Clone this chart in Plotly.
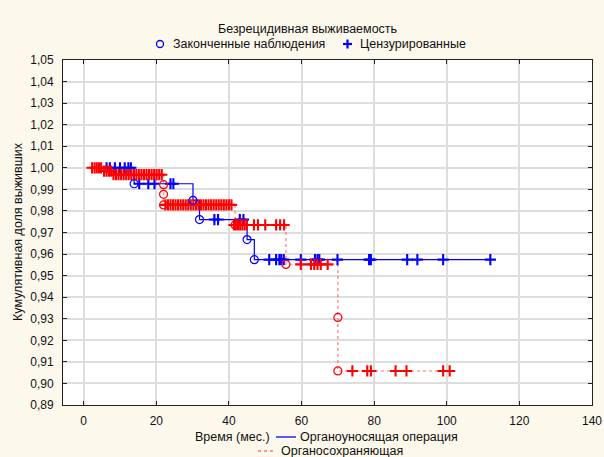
import plotly.graph_objects as go

# ---------------- data ----------------
# Органоуносящая операция (blue)
blue_curve_t = [5.5, 13.9, 30.1, 31.9, 45.0, 47.0, 112.0]
blue_curve_s = [1.0, 0.9926, 0.9849, 0.9760, 0.9667, 0.9574, 0.9574]
blue_event_t = [13.9, 30.1, 31.9, 45.0, 47.0]
blue_event_s = [0.9926, 0.9849, 0.9760, 0.9667, 0.9574]
blue_cens_t = [6.3, 7.2, 8.6, 10.0, 11.3, 12.3, 13.0,
               15.3, 17.8, 19.5, 23.9, 24.7,
               36.0, 37.0, 43.0, 44.0,
               51.1, 53.0, 53.9, 54.4, 55.1, 59.8, 63.7, 64.4, 64.9, 69.9,
               78.6, 79.1, 89.1, 91.9, 99.0, 112.0]
blue_cens_s = [1.0] * 7 + [0.9926] * 5 + [0.9760] * 4 + [0.9574] * 16

# Органосохраняющая (red)
red_curve_t = [2.3, 5.2, 7.8, 22.0, 22.0, 22.0, 41.7, 55.7, 70.0, 70.0, 100.8]
red_curve_s = [1.0, 0.9985, 0.9968, 0.9922, 0.9877, 0.9828, 0.9735, 0.9552,
               0.9306, 0.9058, 0.9058]
red_event_t = [22.0, 22.0, 22.0, 41.7, 55.7, 70.0, 70.0]
red_event_s = [0.9922, 0.9877, 0.9828, 0.9735, 0.9552, 0.9306, 0.9058]
red_cens_a_t = [2.3, 3.0, 3.6, 4.2, 4.8]
red_cens_b_t = [5.6, 6.3, 7.0, 7.6]
red_cens_c_t = [8.2, 8.9, 9.6, 10.3, 11.0, 11.7, 12.4, 13.1, 13.8, 14.5, 15.2,
                15.9, 16.6, 17.3, 18.0, 18.7, 19.4, 20.1, 20.8, 21.5]
red_cens_d_t = [22.5, 23.2, 23.9, 24.6, 25.3, 26.0, 26.7, 27.4, 28.1, 28.8, 29.5,
                30.2, 30.9, 31.6, 32.3, 33.0, 33.7, 34.4, 35.1, 35.8, 36.5,
                37.2, 37.9, 38.6, 39.3, 40.0, 40.7]
red_cens_e_t = [41.4, 41.9, 42.5, 43.1, 43.7, 44.3, 44.9, 46.9, 48.0, 50.0,
                53.0, 54.1, 55.2]
red_cens_f_t = [59.8, 62.6, 63.5, 64.4, 65.3, 67.2]
red_cens_g_t = [74.0, 78.1, 79.1, 85.9, 88.9, 99.0, 100.8]
red_cens_t = (red_cens_a_t + red_cens_b_t + red_cens_c_t + red_cens_d_t
              + red_cens_e_t + red_cens_f_t + red_cens_g_t)
red_cens_s = ([1.0] * len(red_cens_a_t) + [0.9985] * len(red_cens_b_t)
              + [0.9968] * len(red_cens_c_t) + [0.9828] * len(red_cens_d_t)
              + [0.9735] * len(red_cens_e_t) + [0.9552] * len(red_cens_f_t)
              + [0.9058] * len(red_cens_g_t))

x_ticks = [0, 20, 40, 60, 80, 100, 120, 140]
y_ticks = [round(0.89 + 0.01 * i, 2) for i in range(17)]

title_text = "Безрецидивная выживаемость"
legend_top = ["Законченные наблюдения", "Цензурированные"]
series_names = ["Органоуносящая операция", "Органосохраняющая"]
x_title = "Время (мес.)"
y_title = "Кумулятивная доля выживших"

# ---------------- styling / layout ----------------
W, H = 604, 457
L, R, T, B = 63, 12, 60, 52
PW, PH = W - L - R, H - T - B
FONT = "Liberation Sans, Arial, sans-serif"
BLUE = "#0000ff"
RED = "#ff0000"


def px(x):
    return (x - L) / PW


def py(y):
    return (H - B - y) / PH


fig = go.Figure()

fig.add_trace(go.Scatter(x=blue_curve_t, y=blue_curve_s, mode="lines",
                         line=dict(color=BLUE, width=1.2, shape="hv"),
                         showlegend=False, hoverinfo="skip"))
fig.add_trace(go.Scatter(x=red_curve_t, y=red_curve_s, mode="lines",
                         line=dict(color="rgba(255,60,60,0.5)", width=1.6,
                                   shape="hv", dash="dot"),
                         showlegend=False, hoverinfo="skip"))
fig.add_trace(go.Scatter(x=blue_cens_t, y=blue_cens_s, mode="markers",
                         marker=dict(symbol="cross-thin", size=8, color=BLUE,
                                     line=dict(width=2.1, color=BLUE)),
                         showlegend=False))
fig.add_trace(go.Scatter(x=red_cens_t, y=red_cens_s, mode="markers",
                         marker=dict(symbol="cross-thin", size=8, color=RED,
                                     line=dict(width=2.1, color=RED)),
                         showlegend=False))
fig.add_trace(go.Scatter(x=red_event_t, y=red_event_s, mode="markers",
                         marker=dict(symbol="circle-open", size=8, color=RED,
                                     line=dict(width=1.2, color="rgba(255,40,40,0.8)")),
                         showlegend=False))
fig.add_trace(go.Scatter(x=blue_event_t, y=blue_event_s, mode="markers",
                         marker=dict(symbol="circle-open", size=8, color=BLUE,
                                     line=dict(width=1.2, color=BLUE)),
                         showlegend=False))

ann = []
shapes = []


def text(x, y, s, anchor="left", angle=0):
    ann.append(dict(x=px(x), y=py(y), xref="paper", yref="paper", text=s,
                    showarrow=False, xanchor=anchor, yanchor="middle",
                    textangle=angle, font=dict(family=FONT, size=12.5, color="#111")))


text(307.5, 29, title_text, anchor="center")
text(171, 44, legend_top[0])
text(358, 44, legend_top[1])
text(193, 437, x_title)
text(298, 437, series_names[0])
text(279, 451, series_names[1])
text(18, 232, y_title, anchor="center", angle=-90)

# legend glyphs
shapes.append(dict(type="circle", xref="paper", yref="paper",
                   x0=px(156.5), x1=px(163.5), y0=py(47.5), y1=py(40.5),
                   line=dict(color=BLUE, width=1.3)))
shapes.append(dict(type="line", xref="paper", yref="paper",
                   x0=px(343), x1=px(352), y0=py(44), y1=py(44),
                   line=dict(color=BLUE, width=2.2)))
shapes.append(dict(type="line", xref="paper", yref="paper",
                   x0=px(347.5), x1=px(347.5), y0=py(39.5), y1=py(48.5),
                   line=dict(color=BLUE, width=2.2)))
shapes.append(dict(type="line", xref="paper", yref="paper",
                   x0=px(276), x1=px(296), y0=py(437), y1=py(437),
                   line=dict(color=BLUE, width=1.3)))
shapes.append(dict(type="line", xref="paper", yref="paper",
                   x0=px(258), x1=px(275), y0=py(451), y1=py(451),
                   line=dict(color="rgba(255,60,60,0.7)", width=1.5, dash="dot")))

axis_common = dict(showline=True, linecolor="#222", linewidth=1, mirror="ticks",
                   ticks="inside", ticklen=4, tickcolor="#222", showgrid=True,
                   gridcolor="#dddddd", gridwidth=1.5, zeroline=False,
                   automargin=False,
                   tickfont=dict(family=FONT, size=12, color="#111"))

fig.update_layout(
    width=W, height=H,
    margin=dict(l=L, r=R, t=T, b=B, pad=0, autoexpand=False),
    paper_bgcolor="#fdf8ec", plot_bgcolor="#ffffff",
    separators=",.",
    showlegend=False,
    xaxis=dict(range=[-5.7, 140], tickvals=x_ticks, ticktext=[str(v) for v in x_ticks],
               ticklabelstandoff=5, **axis_common),
    yaxis=dict(range=[0.89, 1.05], tickvals=y_ticks, tickformat=".2f",
               ticklabelstandoff=6, **axis_common),
    annotations=ann, shapes=shapes,
)

fig.write_html("out.html")
